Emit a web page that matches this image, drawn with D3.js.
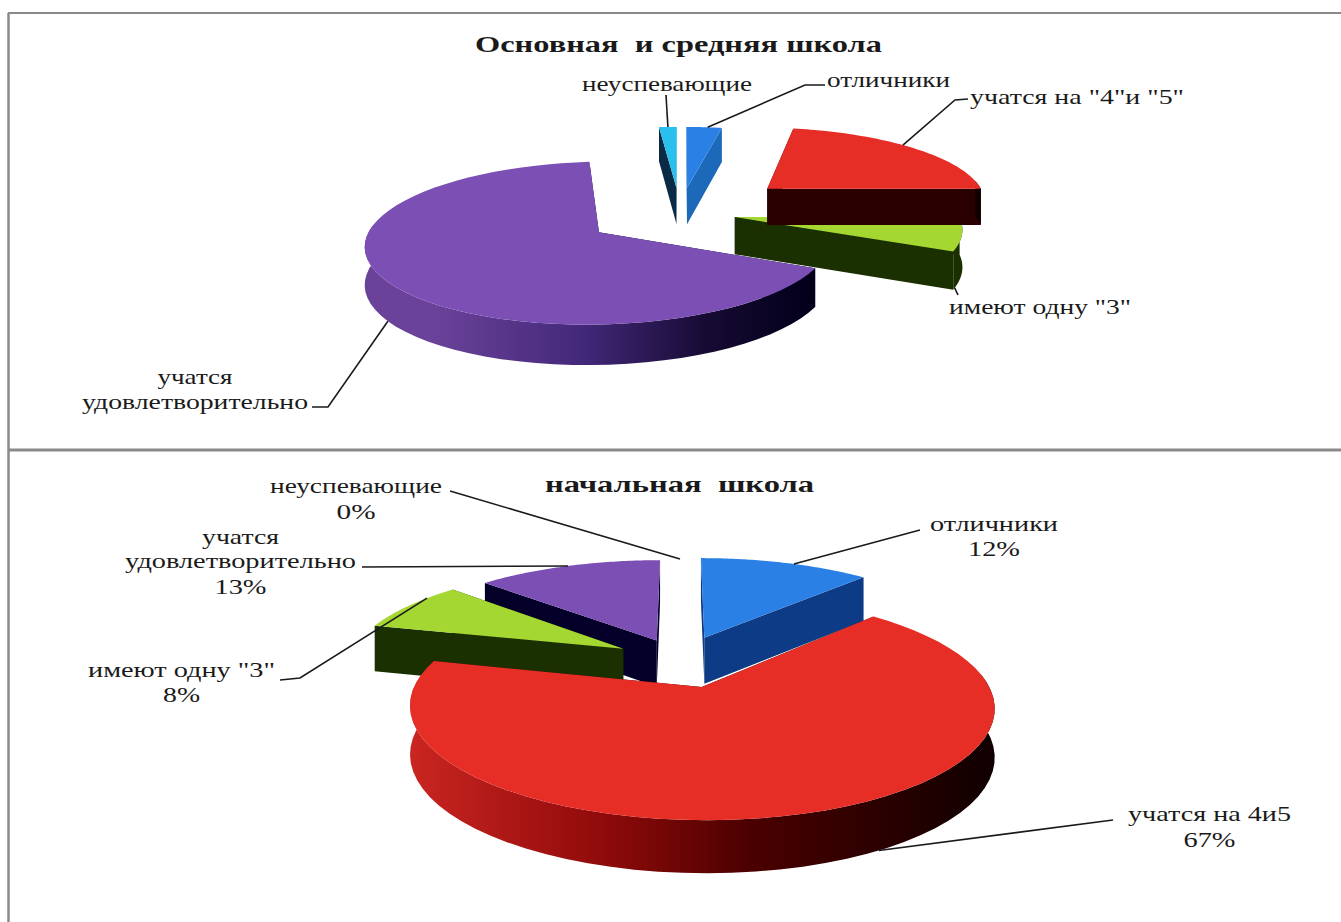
<!DOCTYPE html>
<html><head><meta charset="utf-8">
<script src="https://cdn.jsdelivr.net/npm/d3@7"></script>
<style>html,body{margin:0;padding:0;background:#fff;overflow:hidden}svg{display:block}text{font-family:"Liberation Serif",serif;fill:#1a1a1a}</style>
</head><body><svg id="c" width="1341" height="922"></svg>
<script>
// ---- data ----
const titleTop = "Основная  и средняя школа";
const titleBottom = "начальная  школа";
const categoriesTop = ["отличники", 'учатся на "4"и "5"', 'имеют одну "3"', "учатся удовлетворительно", "неуспевающие"];
const categoriesBottom = ["отличники", "учатся на 4и5", 'имеют одну "3"', "учатся удовлетворительно", "неуспевающие"];
const valuesTop = [3, 22, 7, 66.5, 1.5];
const valuesBottom = [12, 67, 8, 13, 0];

// ---- styling and layout, separate from the data ----
const faceColors = ["#2a80e4", "#e62e27", "#a5d732", "#7c4fb5", "#2ac0ee"];
const svg = d3.select("#c");
const defs = svg.append("defs");
const sideStops = {
  1: [[0, "#d42a25"], [.38, "#8e0a0a"], [.62, "#4a0000"], [1, "#120000"]],
  3: [[0, "#6a4299"], [.3, "#43287a"], [.55, "#170b34"], [.75, "#04001c"], [1, "#000018"]]
};
const charts = [
 { id: "t", values: valuesTop, cats: categoriesTop, cx: 680, cy: 213, rx: 223, ry: 75, p: .13, depth: 37,
   explode: [.35, .53, .25, .43, .35], order: [3, 4, 0, 2, 1],
   walls: ["#1b69b8", "#2a0000", "#1a3000", "#05002a", "#0a2a45"], showPct: false,
   leaders: [
    {i: 0, t: .6, pts: [[805,85],[825,85]]},
    {i: 1, t: .45, pts: [[955,100],[968,99]]},
    {i: 2, t: .95, w: 1, pts: [[958,295]]},
    {i: 3, t: .5, w: 1, pts: [[328,407],[312,407]]},
    {i: 4, t: .5, pts: [[666,95]]}],
   labels: [
    {i: 0, x: 827, w: 123, b: [87]},
    {i: 1, x: 970, w: 214, b: [104]},
    {i: 2, x: 949, w: 182, b: [314]},
    {i: 3, x: 82, w: 226, b: [384, 409], lw: [75, 226]},
    {i: 4, x: 582, w: 170, b: [91]}] },
 { id: "b", values: valuesBottom, cats: categoriesBottom, cx: 680, cy: 660, rx: 275, ry: 100, p: .17, depth: 47,
   explode: [.25, .27, .24, .22, .22], order: [3, 2, 0, 1], 
   walls: ["#0e3b85", "#2a0000", "#1a3000", "#05002a", "#0a2a45"], showPct: true,
   leaders: [
    {i: 0, t: .55, pts: [[920,530]]},
    {i: 1, t: .44, w: 1, pts: [[1113,820]]},
    {i: 2, t: .72, pts: [[300,678],[280,680]]},
    {i: 3, t: .5, pts: [[362,567]]},
    {i: 4, t: 0, pts: [[450,491]]}],
   labels: [
    {i: 0, x: 930, w: 128, b: [531, 556], pw: 52},
    {i: 1, x: 1128, w: 163, b: [821, 847], pw: 52},
    {i: 2, x: 88, w: 187, b: [677, 702], pw: 37},
    {i: 3, x: 125, w: 231, b: [544, 568, 594], lw: [77, 231], pw: 52},
    {i: 4, x: 270, w: 172, b: [493, 519], pw: 39}] }
];

// frame
const frame = svg.append("g").attr("stroke", "#8a8a8a").attr("fill", "none");
frame.append("line").attr("x1", 8).attr("x2", 1341).attr("y1", 13).attr("y2", 13).attr("stroke-width", 2);
frame.append("line").attr("x1", 8.5).attr("x2", 8.5).attr("y1", 13).attr("y2", 922).attr("stroke-width", 2.5);
frame.append("line").attr("x1", 8).attr("x2", 1341).attr("y1", 450).attr("y2", 450).attr("stroke-width", 3);

const lineGen = d3.line();
function drawChart(c) {
  const arcs = d3.pie().value(d => d).sort(null)(c.values);
  const proj = (u, v, down) => {
    const s = 1 / (1 + c.p * v);
    return [c.cx + c.rx * u * s, c.cy - c.ry * v * s + (down ? c.depth * Math.sqrt(s) : 0)];
  };
  const geom = arcs.map((a, i) => {
    const mid = (a.startAngle + a.endAngle) / 2, e = c.explode[i];
    const ou = e * Math.sin(mid), ov = e * Math.cos(mid);
    const at = (th, r, down) => proj(ou + r * Math.sin(th), ov + r * Math.cos(th), down);
    const steps = d3.range(0, 61).map(k => a.startAngle + (a.endAngle - a.startAngle) * k / 60);
    return { a, at, steps };
  });
  const g = svg.append("g");
  c.order.forEach(i => {
    const { a, at, steps } = geom[i];
    const sl = g.append("g");
    const gid = `side-${c.id}-${i}`;
    const grad = defs.append("linearGradient").attr("id", gid).attr("gradientUnits", "userSpaceOnUse")
      .attr("x1", c.cx - c.rx * 1.1).attr("x2", c.cx + c.rx * 1.1).attr("y1", 0).attr("y2", 0);
    (sideStops[i] || [[0, c.walls[i]], [1, c.walls[i]]]).forEach(s => grad.append("stop").attr("offset", s[0]).attr("stop-color", s[1]));
    const wall = (pts, fill) => sl.append("path").attr("d", lineGen(pts) + "Z").attr("fill", fill);
    [a.startAngle, a.endAngle].forEach(t =>
      wall([at(t, 0, false), at(t, 1, false), at(t, 1, true), at(t, 0, true)], c.walls[i]));
    const front = steps.filter(t => Math.cos(t) < .12);
    if (front.length > 1)
      wall(front.map(t => at(t, 1, false)).concat(front.slice().reverse().map(t => at(t, 1, true))), `url(#${gid})`);
    wall([at(0, 0, false)].concat(steps.map(t => at(t, 1, false))), faceColors[i]);
  });
  const lg = svg.append("g").attr("fill", "none").attr("stroke", "#1a1a1a").attr("stroke-width", 1.6);
  c.leaders.forEach(l => {
    const { a, at } = geom[l.i];
    const th = a.startAngle + (a.endAngle - a.startAngle) * l.t;
    lg.append("path").attr("d", lineGen([at(th, 1, !!l.w)].concat(l.pts)));
  });
  const tg = svg.append("g").attr("font-size", 21);
  c.labels.forEach(l => {
    const lines = l.lw ? c.cats[l.i].split(" ") : [c.cats[l.i]];
    const center = l.x + l.w / 2;
    lines.forEach((s, k) => {
      const w = l.lw ? l.lw[k] : l.w;
      tg.append("text").attr("x", center - w / 2).attr("y", l.b[k])
        .attr("textLength", w).attr("lengthAdjust", "spacingAndGlyphs").text(s);
    });
    if (c.showPct) tg.append("text").attr("x", center - l.pw / 2).attr("y", l.b[lines.length])
        .attr("textLength", l.pw).attr("lengthAdjust", "spacingAndGlyphs").text(d3.format(".0%")(c.values[l.i] / 100));
  });
}
charts.forEach(drawChart);
const titles = svg.append("g").attr("font-size", 24).attr("font-weight", "bold");
titles.append("text").attr("x", 475).attr("y", 52).attr("textLength", 407).attr("lengthAdjust", "spacingAndGlyphs").style("white-space", "pre").text(titleTop);
titles.append("text").attr("x", 545).attr("y", 492).attr("textLength", 269).attr("lengthAdjust", "spacingAndGlyphs").style("white-space", "pre").text(titleBottom);
</script></body></html>
